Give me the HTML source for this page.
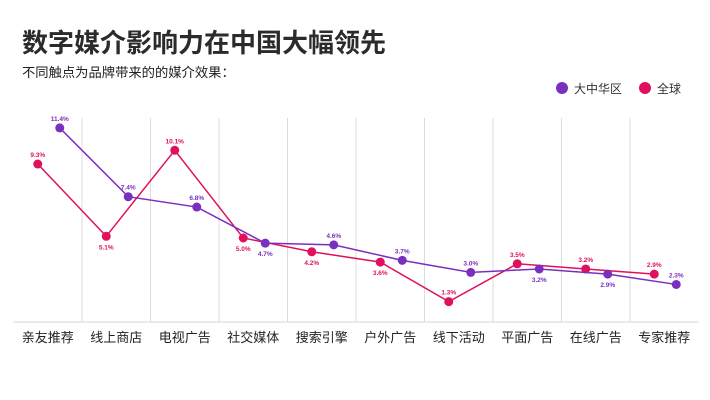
<!DOCTYPE html>
<html><head><meta charset="utf-8">
<style>
body{margin:0;background:#fff;width:710px;height:400px;overflow:hidden;font-family:"Liberation Sans","Noto Sans CJK SC",sans-serif;}
svg{display:block}
</style></head>
<body>
<svg id="chart" width="710" height="400">
<text x="22" y="52" font-size="26" font-weight="bold" fill="#2b2b2b" font-family="Liberation Sans, Noto Sans CJK SC, sans-serif">数字媒介影响力在中国大幅领先</text>
<text x="22" y="77" font-size="13.3" fill="#222" font-family="Liberation Sans, Noto Sans CJK SC, sans-serif">不同触点为品牌带来的的媒介效果：</text>
<g>
<g><circle cx="562" cy="88" r="6" fill="#7b2fbe"/><text x="574" y="93" font-size="12" fill="#333" font-family="Liberation Sans, Noto Sans CJK SC, sans-serif">大中华区</text></g>
<g><circle cx="645" cy="88" r="6" fill="#e0105f"/><text x="657" y="93" font-size="12" fill="#333" font-family="Liberation Sans, Noto Sans CJK SC, sans-serif">全球</text></g>
</g>
<g id="plot"></g>
</svg>
<script>
const categories=["亲友推荐","线上商店","电视广告","社交媒体","搜索引擎","户外广告","线下活动","平面广告","在线广告","专家推荐"];
const chinaValues=[11.4,7.4,6.8,4.7,4.6,3.7,3.0,3.2,2.9,2.3];
const globalValues=[9.3,5.1,10.1,5.0,4.2,3.6,1.3,3.5,3.2,2.9];
const chinaLabelBelow=[false,false,false,true,false,false,false,true,true,false];
const globalLabelBelow=[false,true,false,true,true,true,false,false,false,false];

const NS="http://www.w3.org/2000/svg";
const plot=document.getElementById('plot');
const plotLeft=13.5, step=68.5, plotTop=118, plotBase=322;
const xC=i=>plotLeft+step*(i+0.5);
const yS=v=>324-v*17.2;
function mk(t,a){const e=document.createElementNS(NS,t);for(const k in a)e.setAttribute(k,a[k]);plot.appendChild(e);return e;}
for(let i=1;i<categories.length;i++){
  const g=mk('line',{x1:plotLeft+step*i,x2:plotLeft+step*i,y1:plotTop,y2:plotBase,stroke:'#dcdcdc','stroke-width':1});
  
  
}
const ax=mk('line',{x1:plotLeft,x2:plotLeft+step*10,y1:plotBase,y2:plotBase,stroke:'#d6d6d6','stroke-width':1});


categories.forEach((c,i)=>{
  const t=mk('text',{x:xC(i),y:342,'text-anchor':'middle','font-size':13,fill:'#222','font-family':'Liberation Sans, Noto Sans CJK SC, sans-serif'});
  t.textContent=c;
  
  
});
function series(vals,below,off,color,name){
  const pts=vals.map((v,i)=>[xC(i)+off,yS(v)]);
  const p=mk('polyline',{points:pts.map(p=>p.join(',')).join(' '),fill:'none',stroke:color,'stroke-width':1.5});
  
  
  pts.forEach((q,i)=>{
    const c=mk('circle',{cx:q[0],cy:q[1],r:4.5,fill:color});
    
    
    const t=mk('text',{x:q[0],y:below[i]?q[1]+13:q[1]-7,'text-anchor':'middle','font-size':6.5,'font-weight':'bold',fill:color,'font-family':'Liberation Sans, sans-serif'});
    t.textContent=vals[i].toFixed(1)+'%';
    
    
  });
}
series(globalValues,globalLabelBelow,-10,'#e0105f','global');
series(chinaValues,chinaLabelBelow,12,'#7b2fbe','greater-china');
</script>
</body></html>
